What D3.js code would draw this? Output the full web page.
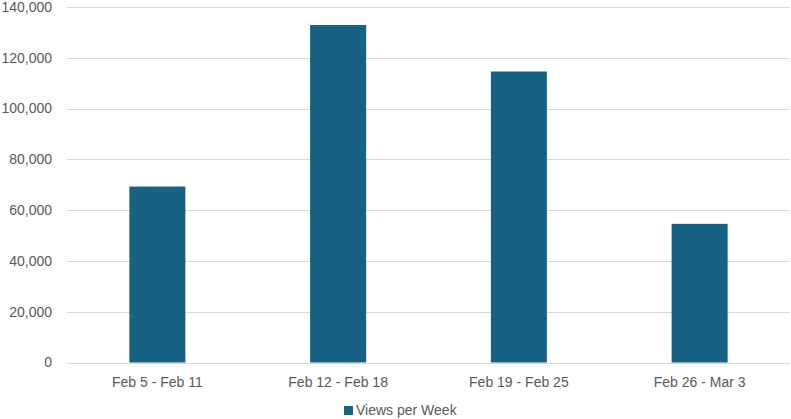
<!DOCTYPE html>
<html>
<head>
<meta charset="utf-8">
<script src="https://cdn.jsdelivr.net/npm/d3@7"></script>
<style>
    body { margin: 0; background: #fff; }
    svg { display: block; font-family: "Liberation Sans", Arial, sans-serif; }
</style>
</head>
<body>
<div id="chartContainer"></div>
<script>
const weeks = ['Feb 5 - Feb 11', 'Feb 12 - Feb 18', 'Feb 19 - Feb 25', 'Feb 26 - Mar 3'];
const viewsPerWeek = [69300, 132900, 114600, 54600];
const yTicks = [0, 20000, 40000, 60000, 80000, 100000, 120000, 140000];
const seriesName = 'Views per Week';

const width = 791;
const height = 419;
const margin = { top: 7, right: 1, bottom: 57, left: 67 };
const barColor = '#176184';
const textColor = '#595959';

const svg = d3.select('#chartContainer')
    .append('svg')
    .attr('width', width)
    .attr('height', height);

const x = d3.scaleBand()
    .domain(weeks)
    .range([margin.left, width - margin.right])
    .paddingInner(0.69)
    .paddingOuter(0.345);

const y = d3.scaleLinear()
    .domain([0, 140000])
    .range([height - margin.bottom + 0.5, margin.top]);

// gridlines
svg.append('g')
    .selectAll('line')
    .data(yTicks)
    .enter().append('line')
    .attr('x1', margin.left)
    .attr('x2', width - margin.right)
    .attr('y1', d => Math.round(y(d)) + 0.5)
    .attr('y2', d => Math.round(y(d)) + 0.5)
    .attr('stroke', '#d9d9d9')
    .attr('stroke-width', 1);

// y labels
svg.append('g')
    .selectAll('text')
    .data(yTicks)
    .enter().append('text')
    .attr('x', 52)
    .attr('y', d => y(d))
    .attr('dy', '0.35em')
    .attr('text-anchor', 'end')
    .attr('fill', textColor)
    .style('font-size', '14px')
    .text(d => d3.format(',d')(d));

// bars
svg.selectAll('.bar')
    .data(weeks)
    .enter().append('rect')
    .attr('class', 'bar')
    .attr('x', d => x(d))
    .attr('y', (d, i) => y(viewsPerWeek[i]))
    .attr('width', x.bandwidth())
    .attr('height', (d, i) => y(0) - y(viewsPerWeek[i]))
    .attr('fill', barColor);

// x labels
svg.append('g')
    .selectAll('text')
    .data(weeks)
    .enter().append('text')
    .attr('x', d => x(d) + x.bandwidth() / 2)
    .attr('y', 387)
    .attr('text-anchor', 'middle')
    .attr('fill', textColor)
    .style('font-size', '14px')
    .text(d => d);

// legend
const legend = svg.append('g');
legend.append('rect')
    .attr('x', 344)
    .attr('y', 406)
    .attr('width', 9)
    .attr('height', 9)
    .attr('fill', barColor);
legend.append('text')
    .attr('x', 356)
    .attr('y', 415)
    .attr('fill', textColor)
    .style('font-size', '14px')
    .text(seriesName);
</script>
</body>
</html>
